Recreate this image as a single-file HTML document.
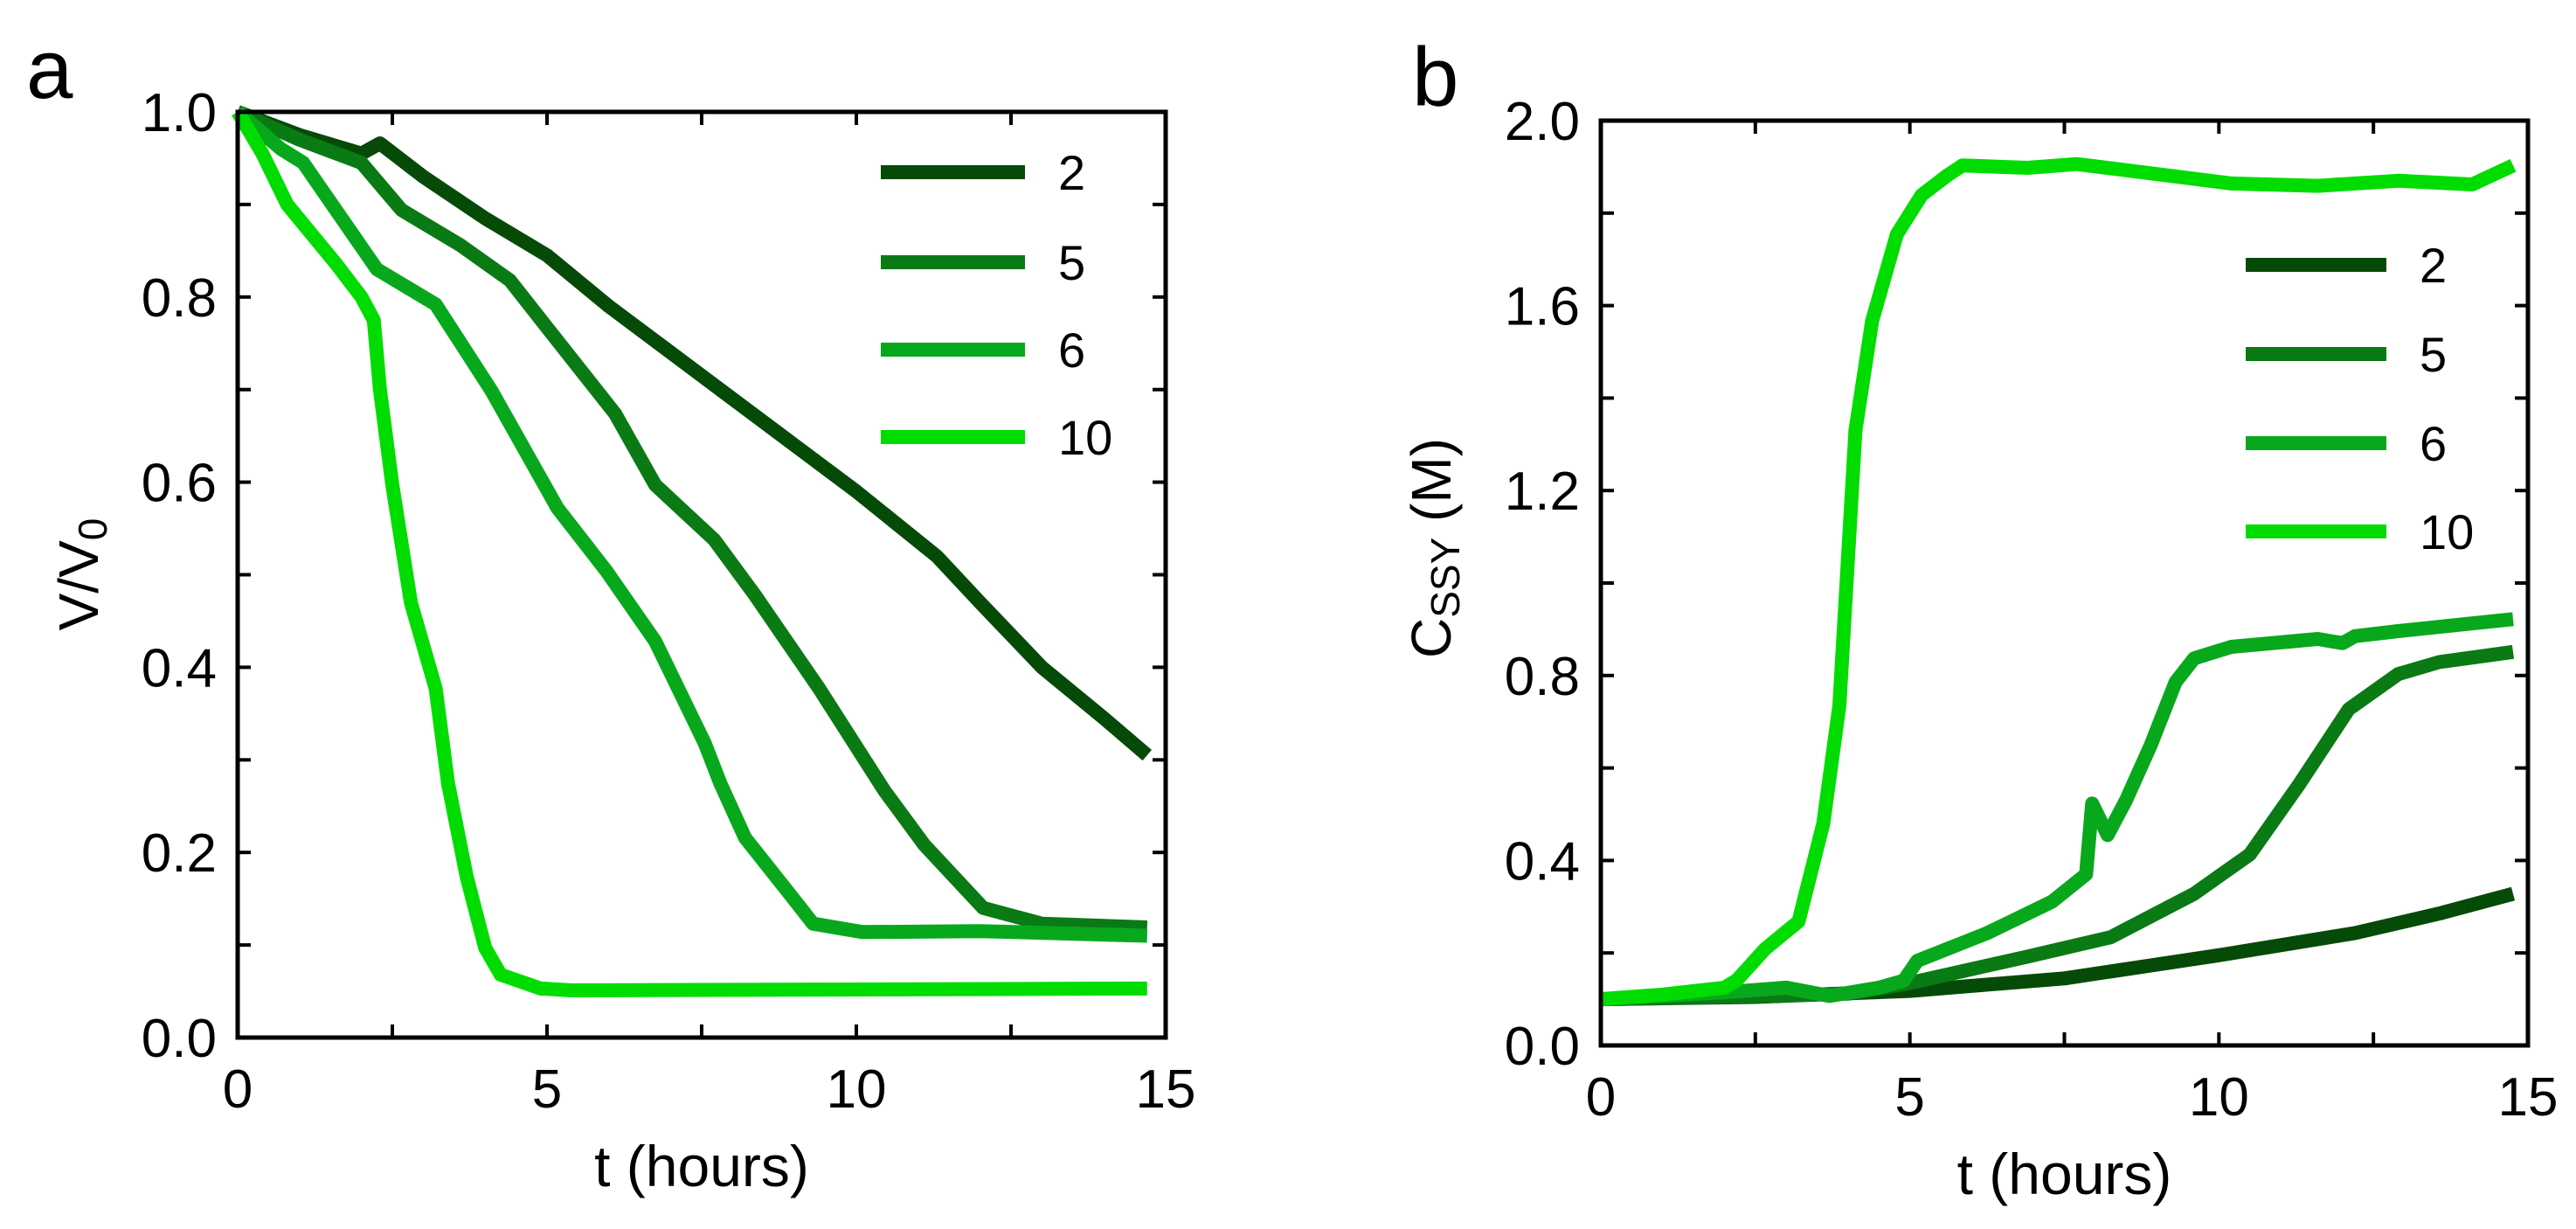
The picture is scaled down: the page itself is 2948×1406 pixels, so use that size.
<!DOCTYPE html>
<html><head><meta charset="utf-8"><style>
html,body{margin:0;padding:0;background:#fff;}
svg{display:block;font-family:"Liberation Sans",sans-serif;}
</style></head><body>
<svg id="fig" width="2948" height="1406" viewBox="0 0 2948 1406" xmlns="http://www.w3.org/2000/svg"></svg>
<script>
// ---- data ----
const seriesNames = ['2','5','6','10'];
const seriesColors = ['#064a08','#0a7a14','#08a81c','#00dc00'];
// Panel a: V/V0 vs t
const aT2 = [0,1,2,2.3,3,4,5,6,8,10,11.3,12,13,14,14.7];
const aV2 = [1,0.975,0.955,0.966,0.93,0.885,0.845,0.79,0.69,0.59,0.52,0.47,0.40,0.345,0.305];
const aT5 = [0,0.5,1,2,2.65,3.6,4.4,5,6.1,6.75,7.7,8.35,9.4,10.45,11.1,12.05,13,14.7];
const aV5 = [1,0.985,0.97,0.945,0.894,0.856,0.818,0.767,0.674,0.597,0.538,0.479,0.377,0.267,0.208,0.14,0.123,0.119];
const aT6 = [0,0.7,1.06,2.25,3.2,4.1,5.17,5.96,6.75,7.55,7.8,8.2,8.9,9.3,10.1,12,14.7];
const aV6 = [1,0.96,0.945,0.83,0.792,0.699,0.572,0.504,0.428,0.318,0.275,0.216,0.157,0.123,0.114,0.115,0.11];
const aT10 = [0,0.4,0.8,1.6,2,2.2,2.3,2.5,2.8,3.2,3.4,3.7,4,4.25,4.9,5.4,14.7];
const aV10 = [1,0.955,0.9,0.835,0.8,0.775,0.7,0.597,0.47,0.377,0.275,0.174,0.097,0.068,0.053,0.051,0.053];
// Panel b: C_SSY vs t
const bT2 = [0,2.5,5,7.5,10,12.2,13.56,14.76];
const bC2 = [0.1,0.105,0.118,0.145,0.195,0.243,0.285,0.328];
const bT5 = [0,2,4,5,6.9,8.25,9.6,10.5,11.3,12.1,12.9,13.56,14.76];
const bC5 = [0.1,0.105,0.112,0.135,0.192,0.234,0.328,0.413,0.565,0.727,0.803,0.829,0.851];
const bT6 = [0,2,3,3.7,4.5,4.9,5.12,6.25,7.3,7.85,7.95,8.2,8.5,8.9,9.3,9.6,10.2,11.6,12,12.2,12.9,14.76];
const bC6 = [0.1,0.115,0.125,0.107,0.125,0.14,0.183,0.243,0.311,0.37,0.523,0.455,0.531,0.65,0.786,0.837,0.862,0.879,0.87,0.885,0.896,0.922];
const bT10 = [0,1,2,2.2,2.66,3.2,3.6,3.86,4.12,4.39,4.79,5.19,5.6,5.85,6.9,7.7,8.9,10.2,11.6,12.9,14.1,14.76];
const bC10 = [0.1,0.11,0.125,0.141,0.209,0.268,0.48,0.735,1.33,1.567,1.754,1.839,1.881,1.903,1.898,1.906,1.886,1.864,1.859,1.87,1.862,1.903];
const xTickLabels = ['0','5','10','15'];
const aYTickLabels = ['0.0','0.2','0.4','0.6','0.8','1.0'];
const bYTickLabels = ['0.0','0.4','0.8','1.2','1.6','2.0'];

const NS='http://www.w3.org/2000/svg';
const svg=document.getElementById('fig');
function el(tag,attrs,parent){const e=document.createElementNS(NS,tag);for(const k in attrs)e.setAttribute(k,attrs[k]);(parent||svg).appendChild(e);return e;}

function panel(cfg){
  const g=el('g',{});
  
  
  const L=cfg.L,R=cfg.R,T=cfg.T,B=cfg.B;
  const xs=v=>L+(v-0)/15*(R-L);
  const ys=v=>B-(v-0)/cfg.ymax*(B-T);
  cfg.series.forEach((s,i)=>{
    const d=s.t.map((t,j)=>(j?'L':'M')+xs(t).toFixed(1)+' '+ys(s.v[j]).toFixed(1)).join(' ');
    const p=el('path',{d:d,fill:'none',stroke:seriesColors[i],'stroke-width':16,'stroke-linejoin':'round','stroke-linecap':'butt'},g);
    
    
  });
  const fr=el('rect',{x:L,y:T,width:R-L,height:B-T,fill:'none',stroke:'#000','stroke-width':5},g);
  
  
  for(let k=0;k<=6;k++){
    const v=k*2.5,x=xs(v);
    el('line',{x1:x,y1:B,x2:x,y2:B-15,stroke:'#000','stroke-width':4},g);
    el('line',{x1:x,y1:T,x2:x,y2:T+15,stroke:'#000','stroke-width':4},g);
  }
  xTickLabels.forEach((lab,k)=>{
    const t=el('text',{x:xs(k*5),y:B+80,'font-size':62,'text-anchor':'middle'},g);t.textContent=lab;
    
    
  });
  const nMinor=10;
  for(let k=0;k<=nMinor;k++){
    const y=ys(k*cfg.ymax/nMinor);
    el('line',{x1:L,y1:y,x2:L+15,y2:y,stroke:'#000','stroke-width':4},g);
    el('line',{x1:R,y1:y,x2:R-15,y2:y,stroke:'#000','stroke-width':4},g);
  }
  cfg.yLabels.forEach((lab,k)=>{
    const t=el('text',{x:L-24,y:ys(k*cfg.ymax/5)+22,'font-size':62,'text-anchor':'end'},g);t.textContent=lab;
    
    
  });
  const xt=el('text',{x:(L+R)/2,y:B+170,'font-size':66,'text-anchor':'middle'},g);xt.textContent='t (hours)';
  
  
  cfg.legendY.forEach((y,i)=>{
    const ln=el('line',{x1:cfg.legX1,y1:y,x2:cfg.legX2,y2:y,stroke:seriesColors[i],'stroke-width':16},g);
    
    
    const t=el('text',{x:cfg.legX2+38,y:y+20,'font-size':56},g);t.textContent=seriesNames[i];
    
    
  });
  const pl=el('text',{x:cfg.letterX,y:cfg.letterY,'font-size':96},g);pl.textContent=cfg.letter;
  
  
  return g;
}

panel({name:'panel-a',L:272,R:1334,T:128,B:1187,ymax:1.0,yLabels:aYTickLabels,
  series:[{t:aT2,v:aV2},{t:aT5,v:aV5},{t:aT6,v:aV6},{t:aT10,v:aV10}],
  legendY:[197,300,400,500],legX1:1008,legX2:1173,letter:'a',letterX:30,letterY:112});
panel({name:'panel-b',L:1832,R:2893,T:138,B:1196,ymax:2.0,yLabels:bYTickLabels,
  series:[{t:bT2,v:bC2},{t:bT5,v:bC5},{t:bT6,v:bC6},{t:bT10,v:bC10}],
  legendY:[303,405,507,608],legX1:2570,legX2:2731,letter:'b',letterX:1616,letterY:121});

const ya=el('text',{x:0,y:0,'font-size':64,'text-anchor':'middle',transform:'translate(112,657) rotate(-90)'});


ya.innerHTML='V/V<tspan font-size="46" dy="10">0</tspan>';
const yb=el('text',{x:0,y:0,'font-size':64,'text-anchor':'middle',transform:'translate(1660,627) rotate(-90)'});


yb.innerHTML='C<tspan font-size="46" dy="10">SSY</tspan><tspan dy="-10"> (M)</tspan>';
</script>
</body></html>
